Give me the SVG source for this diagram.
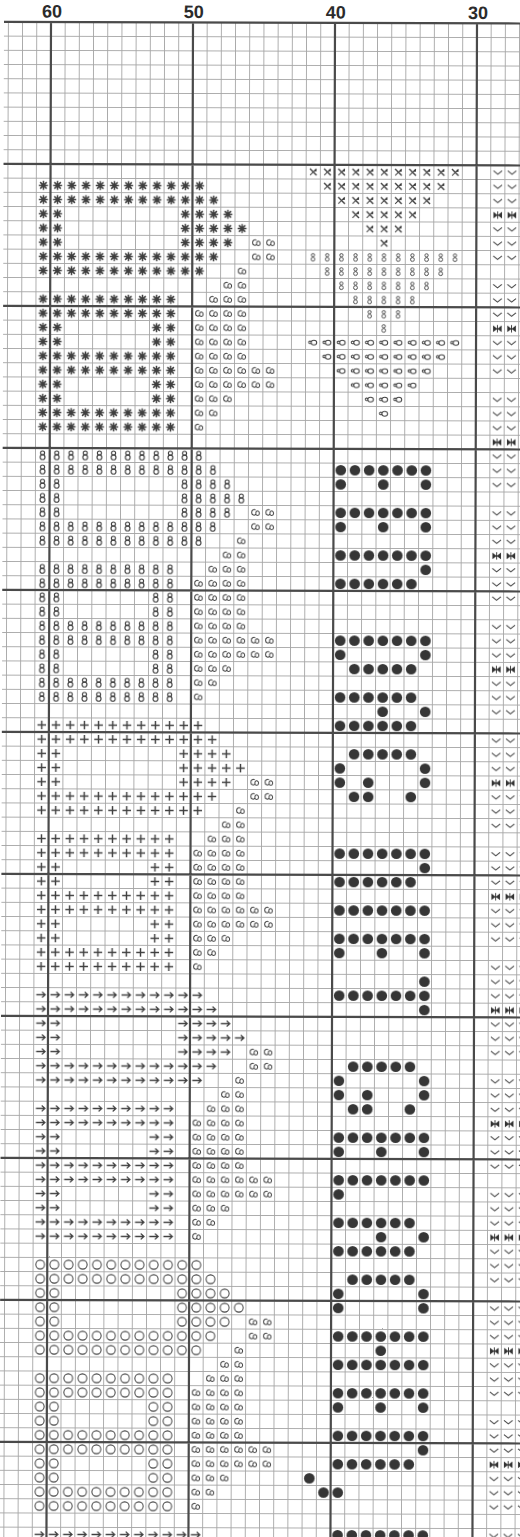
<svg xmlns="http://www.w3.org/2000/svg" xmlns:xlink="http://www.w3.org/1999/xlink" width="520" height="1537" viewBox="0 0 520 1537">
<style>
.lab{font-family:"Liberation Sans",Arial,sans-serif;font-weight:bold;font-size:18px;fill:#2b2b2b;text-anchor:middle}
.maj{stroke:#4a4a4a;stroke-width:2.2;fill:none}
.sy{fill:none;stroke:#3e3e3e}
</style>
<defs>
<pattern id="pGrid" patternUnits="userSpaceOnUse" x="-0.5" y="-0.5" width="14.2" height="14.2">
<rect width="14.2" height="0.9" fill="#a6a6a6"/><rect width="0.9" height="14.2" fill="#a6a6a6"/>
</pattern>
<pattern id="pAst" patternUnits="userSpaceOnUse" width="14.2" height="14.2">
<path class="sy" stroke-width="1.5" d="M7.1 2.6V11.6M2.6 7.1H11.6M3.9 3.9L10.3 10.3M10.3 3.9L3.9 10.3"/>
</pattern>
<pattern id="p3" patternUnits="userSpaceOnUse" width="14.2" height="14.2">
<path class="sy" stroke-width="1" d="M7.2 4.6C5.6 3.4 3.2 4.6 3.4 7.2C3.6 9.8 6.2 10.4 7.4 8.6C8 10.2 10.8 10.6 11 8C11.2 5.6 8.8 4.8 7.8 6.2C7.2 7.2 7.6 8.2 7.4 8.6"/>
</pattern>
<pattern id="pX" patternUnits="userSpaceOnUse" width="14.2" height="14.2">
<path class="sy" stroke-width="1.4" d="M3.8 3.8L10.4 10.4"/>
<path class="sy" stroke-width="1" d="M10.3 3.9L3.9 10.3"/>
<circle cx="9.4" cy="5.6" r="1.1" fill="#333"/>
</pattern>
<pattern id="pS" patternUnits="userSpaceOnUse" width="14.2" height="14.2">
<circle class="sy" stroke-width="0.9" cx="7.1" cy="5" r="1.6"/><circle class="sy" stroke-width="0.9" cx="7.1" cy="9.1" r="1.9"/>
</pattern>
<pattern id="pLoop" patternUnits="userSpaceOnUse" width="14.2" height="14.2">
<ellipse class="sy" stroke-width="1" cx="8.3" cy="7.3" rx="2.8" ry="2.4"/>
<path class="sy" stroke-width="1" d="M5.6 6.6C4.6 5.2 2.8 5.8 3.1 7.2C3.3 8.4 4.6 8.6 5.5 7.8"/>
</pattern>
<pattern id="p8" patternUnits="userSpaceOnUse" width="14.2" height="14.2">
<circle class="sy" stroke-width="1.1" cx="7.1" cy="4.8" r="2"/><circle class="sy" stroke-width="1.1" cx="7.1" cy="9.2" r="2.4"/>
</pattern>
<pattern id="pPlus" patternUnits="userSpaceOnUse" width="14.2" height="14.2">
<path class="sy" stroke-width="1.4" d="M7.1 2.8V11.4M2.8 7.1H11.4"/>
</pattern>
<pattern id="pArr" patternUnits="userSpaceOnUse" width="14.2" height="14.2">
<path class="sy" stroke-width="1.2" d="M2.4 7.1H11.4M8.2 4.3L11.4 7.1L8.2 9.9"/>
</pattern>
<pattern id="pO" patternUnits="userSpaceOnUse" width="14.2" height="14.2">
<circle class="sy" stroke-width="1" cx="7.1" cy="7.1" r="4.4"/>
</pattern>
<pattern id="pDot" patternUnits="userSpaceOnUse" width="14.2" height="14.2">
<circle cx="7.1" cy="7.1" r="5.3" fill="#363636"/>
</pattern>
<pattern id="pCol" patternUnits="userSpaceOnUse" x="0" y="142" width="14.2" height="113.6">
<path class="sy" stroke="#505050" stroke-width="1.1" d="M2.8 5.4L7.1 8.8L11.4 5.4M2.8 19.6L7.1 23L11.4 19.6M2.8 33.8L7.1 37.2L11.4 33.8M2.8 62.2L7.1 65.6L11.4 62.2M2.8 76.4L7.1 79.8L11.4 76.4M2.8 90.6L7.1 94L11.4 90.6"/>
<path fill="#333" d="M2.8 46.4L7.1 49.7L2.8 53Z M11.4 46.4L7.1 49.7L11.4 53Z"/>
<path stroke="#333" stroke-width="1" d="M7.1 46V53.4"/>
</pattern>
<g id="L">
<rect x="28.4" y="0" width="170.4" height="14.2"/>
<rect x="28.4" y="14.2" width="184.6" height="14.2"/>
<rect x="28.4" y="28.4" width="28.4" height="42.6"/>
<rect x="170.4" y="28.4" width="56.8" height="14.2"/>
<rect x="170.4" y="42.6" width="71" height="14.2"/>
<rect x="170.4" y="56.8" width="56.8" height="14.2"/>
<rect x="28.4" y="71" width="184.6" height="14.2"/>
<rect x="28.4" y="85.2" width="170.4" height="14.2"/>
<rect x="28.4" y="113.6" width="142" height="28.4"/>
<rect x="28.4" y="142" width="28.4" height="28.4"/>
<rect x="142" y="142" width="28.4" height="28.4"/>
<rect x="28.4" y="170.4" width="142" height="28.4"/>
<rect x="28.4" y="198.8" width="28.4" height="28.4"/>
<rect x="142" y="198.8" width="28.4" height="28.4"/>
<rect x="28.4" y="227.2" width="142" height="28.4"/>
</g>
<g id="S">
<rect x="241.4" y="56.8" width="28.4" height="28.4"/>
<rect x="227.2" y="85.2" width="14.2" height="14.2"/>
<rect x="213" y="99.4" width="28.4" height="14.2"/>
<rect x="198.8" y="113.6" width="42.6" height="14.2"/>
<rect x="184.6" y="127.8" width="56.8" height="56.8"/>
<rect x="184.6" y="184.6" width="85.2" height="28.4"/>
<rect x="184.6" y="213" width="42.6" height="14.2"/>
<rect x="184.6" y="227.2" width="28.4" height="14.2"/>
<rect x="184.6" y="241.4" width="14.2" height="14.2"/>
</g>
<g id="Tri">
<rect x="298.2" y="0" width="156.2" height="14.2"/>
<rect x="312.4" y="14.2" width="127.8" height="14.2"/>
<rect x="326.6" y="28.4" width="99.4" height="14.2"/>
<rect x="340.8" y="42.6" width="71" height="14.2"/>
<rect x="355" y="56.8" width="42.6" height="14.2"/>
<rect x="369.2" y="71" width="14.2" height="14.2"/>
</g>
</defs>
<rect width="520" height="1537" fill="#ffffff"/>
<g transform="rotate(0.172 260 22.7) translate(8.4 22.7)">
<g id="grid">
<rect x="-4.4" y="0" width="532" height="1530" fill="url(#pGrid)"/>
<path class="maj" d="M42.6 0V1530M184.6 0V1530M326.6 0V1530M468.6 0V1530M-4.4 0H528M-4.4 142H528M-4.4 284H528M-4.4 426H528M-4.4 568H528M-4.4 710H528M-4.4 852H528M-4.4 994H528M-4.4 1136H528M-4.4 1278H528M-4.4 1420H528"/>
</g>
<g id="labels">
<text class="lab" x="43.6" y="-4.6">60</text>
<text class="lab" x="185.4" y="-4.6">50</text>
<text class="lab" x="327.4" y="-4.4">40</text>
<text class="lab" x="469.6" y="-4.4">30</text>
</g>
<g id="letters">
<use xlink:href="#L" href="#L" y="156.2" fill="url(#pAst)"/>
<use xlink:href="#L" href="#L" y="426" fill="url(#p8)"/>
<use xlink:href="#L" href="#L" y="695.8" fill="url(#pPlus)"/>
<use xlink:href="#L" href="#L" y="965.6" fill="url(#pArr)"/>
<use xlink:href="#L" href="#L" y="1235.4" fill="url(#pO)"/>
<rect x="28.4" y="1505.2" width="170.4" height="14.2" fill="url(#pArr)"/>
</g>
<g id="shadows" fill="url(#p3)">
<use xlink:href="#S" href="#S" y="156.2"/>
<use xlink:href="#S" href="#S" y="426"/>
<use xlink:href="#S" href="#S" y="695.8"/>
<use xlink:href="#S" href="#S" y="965.6"/>
<use xlink:href="#S" href="#S" y="1235.4"/>
</g>
<g id="triangles">
<use xlink:href="#Tri" href="#Tri" y="142" fill="url(#pX)"/>
<use xlink:href="#Tri" href="#Tri" y="227.2" fill="url(#pS)"/>
<use xlink:href="#Tri" href="#Tri" y="312.4" fill="url(#pLoop)"/>
</g>
<g id="dots" fill="url(#pDot)">
<rect x="326.6" y="440.2" width="99.4" height="14.2"/>
<rect x="326.6" y="454.4" width="14.2" height="14.2"/><rect x="369.2" y="454.4" width="14.2" height="14.2"/><rect x="411.8" y="454.4" width="14.2" height="14.2"/>
<rect x="326.6" y="482.8" width="99.4" height="14.2"/>
<rect x="326.6" y="497" width="14.2" height="14.2"/><rect x="369.2" y="497" width="14.2" height="14.2"/><rect x="411.8" y="497" width="14.2" height="14.2"/>
<rect x="326.6" y="525.4" width="99.4" height="14.2"/>
<rect x="411.8" y="539.6" width="14.2" height="14.2"/>
<rect x="326.6" y="553.8" width="85.2" height="14.2"/>
<rect x="326.6" y="610.6" width="99.4" height="14.2"/>
<rect x="326.6" y="624.8" width="14.2" height="14.2"/><rect x="411.8" y="624.8" width="14.2" height="14.2"/>
<rect x="340.8" y="639" width="71" height="14.2"/>
<rect x="326.6" y="667.4" width="85.2" height="14.2"/>
<rect x="369.2" y="681.6" width="14.2" height="14.2"/><rect x="411.8" y="681.6" width="14.2" height="14.2"/>
<rect x="326.6" y="695.8" width="85.2" height="14.2"/>
<rect x="340.8" y="724.2" width="71" height="14.2"/>
<rect x="326.6" y="738.4" width="14.2" height="28.4"/><rect x="411.8" y="738.4" width="14.2" height="28.4"/>
<rect x="355" y="752.6" width="14.2" height="14.2"/>
<rect x="340.8" y="766.8" width="28.4" height="14.2"/><rect x="397.6" y="766.8" width="14.2" height="14.2"/>
<rect x="326.6" y="823.6" width="99.4" height="14.2"/>
<rect x="411.8" y="837.8" width="14.2" height="14.2"/>
<rect x="326.6" y="852" width="85.2" height="14.2"/>
<rect x="326.6" y="880.4" width="99.4" height="14.2"/>
<rect x="326.6" y="908.8" width="99.4" height="14.2"/>
<rect x="326.6" y="923" width="14.2" height="14.2"/><rect x="369.2" y="923" width="14.2" height="14.2"/><rect x="411.8" y="923" width="14.2" height="14.2"/>
<rect x="411.8" y="951.4" width="14.2" height="14.2"/>
<rect x="326.6" y="965.6" width="99.4" height="14.2"/>
<rect x="411.8" y="979.8" width="14.2" height="14.2"/>
<rect x="340.8" y="1036.6" width="71" height="14.2"/>
<rect x="326.6" y="1050.8" width="14.2" height="28.4"/><rect x="411.8" y="1050.8" width="14.2" height="28.4"/>
<rect x="355" y="1065" width="14.2" height="14.2"/>
<rect x="340.8" y="1079.2" width="28.4" height="14.2"/><rect x="397.6" y="1079.2" width="14.2" height="14.2"/>
<rect x="326.6" y="1107.6" width="99.4" height="14.2"/>
<rect x="326.6" y="1121.8" width="14.2" height="14.2"/><rect x="369.2" y="1121.8" width="14.2" height="14.2"/><rect x="411.8" y="1121.8" width="14.2" height="14.2"/>
<rect x="326.6" y="1150.2" width="99.4" height="14.2"/>
<rect x="326.6" y="1164.4" width="14.2" height="14.2"/>
<rect x="326.6" y="1192.8" width="85.2" height="14.2"/>
<rect x="369.2" y="1207" width="14.2" height="14.2"/><rect x="411.8" y="1207" width="14.2" height="14.2"/>
<rect x="326.6" y="1221.2" width="85.2" height="14.2"/>
<rect x="340.8" y="1249.6" width="71" height="14.2"/>
<rect x="326.6" y="1263.8" width="14.2" height="28.4"/><rect x="411.8" y="1263.8" width="14.2" height="28.4"/>
<rect x="326.6" y="1306.4" width="99.4" height="14.2"/>
<rect x="369.2" y="1320.6" width="14.2" height="14.2"/>
<rect x="326.6" y="1334.8" width="99.4" height="14.2"/>
<rect x="326.6" y="1363.2" width="99.4" height="14.2"/>
<rect x="326.6" y="1377.4" width="14.2" height="14.2"/><rect x="369.2" y="1377.4" width="14.2" height="14.2"/><rect x="411.8" y="1377.4" width="14.2" height="14.2"/>
<rect x="326.6" y="1405.8" width="99.4" height="14.2"/>
<rect x="411.8" y="1420" width="14.2" height="14.2"/>
<rect x="326.6" y="1434.2" width="85.2" height="14.2"/>
<rect x="298.2" y="1448.4" width="14.2" height="14.2"/>
<rect x="312.4" y="1462.6" width="28.4" height="14.2"/>
<rect x="326.6" y="1505.2" width="99.4" height="14.2"/>
</g>
<g id="column">
<rect x="482.8" y="142" width="42.6" height="1377.4" fill="url(#pCol)"/>
</g>
</g>
</svg>
